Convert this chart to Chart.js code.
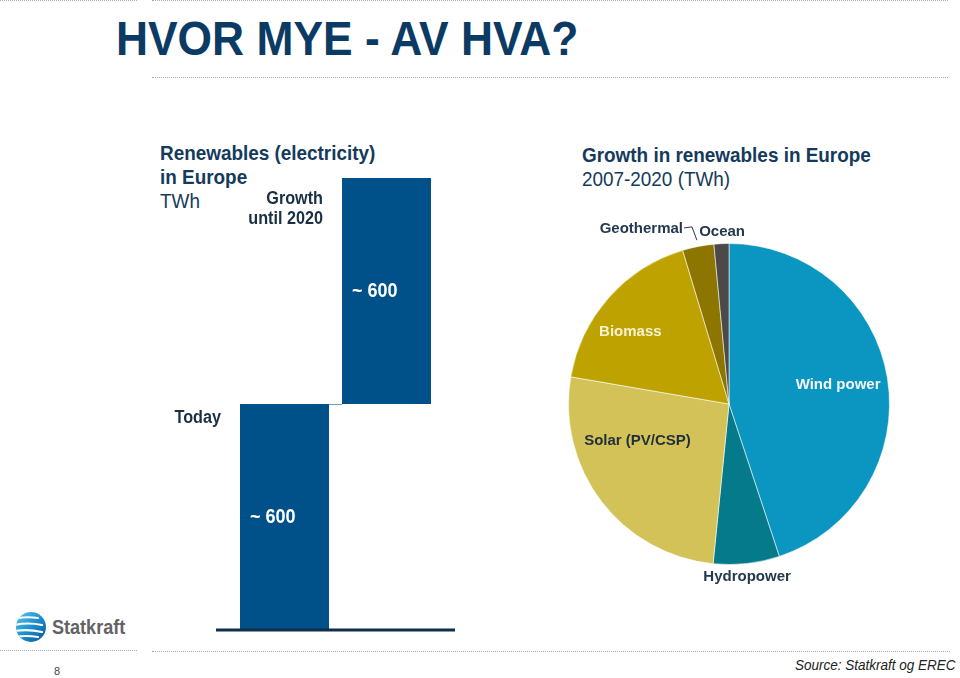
<!DOCTYPE html>
<html>
<head>
<meta charset="utf-8">
<script src="https://cdn.jsdelivr.net/npm/chart.js@4"></script>
<style>
body{margin:0;width:960px;height:678px;position:relative;background:#fff;font-family:"Liberation Sans",Arial,sans-serif;overflow:hidden}
.dot{position:absolute;height:0;border-top:1px dotted #a9a9a9}
.txt{position:absolute;white-space:nowrap;transform:scaleX(.9);transform-origin:0 0}
#title{left:116px;top:11px;font-size:48px;line-height:56px;font-weight:bold;color:#0b3b64;transform:scaleX(.924)}
#leftHead{left:160px;top:141px;font-size:21px;line-height:24px;color:#143a5c}
#rightHead{left:582px;top:143px;font-size:21px;line-height:24px;color:#143a5c}
b{font-weight:bold}
#page{position:absolute;left:54px;top:665px;font-size:11px;color:#444}
#source{left:795px;top:656px;font-size:15px;line-height:18px;font-style:italic;color:#222}
#brand{left:52px;top:615px;font-size:21px;line-height:24px;font-weight:bold;color:#636363;transform:scaleX(.86)}
canvas{position:absolute}
</style>
</head>
<body>
<div class="dot" style="left:0;top:0;width:137px"></div>
<div class="dot" style="left:152px;top:0;width:796px"></div>
<div class="dot" style="left:152px;top:77px;width:796px"></div>
<div class="dot" style="left:0;top:650px;width:137px"></div>
<div class="dot" style="left:152px;top:651px;width:798px"></div>

<div class="txt" id="title">HVOR MYE - AV HVA?</div>
<div class="txt" id="leftHead"><b>Renewables (electricity)</b><br><b>in Europe</b><br>TWh</div>
<div class="txt" id="rightHead"><b>Growth in renewables in Europe</b><br>2007-2020 (TWh)</div>

<svg style="position:absolute;left:14px;top:610px" width="34" height="34" viewBox="0 0 34 34">
  <defs>
    <linearGradient id="g" x1="0" y1="0" x2="1" y2="1">
      <stop offset="0" stop-color="#5cc6ee"/>
      <stop offset="0.5" stop-color="#1c8fcf"/>
      <stop offset="1" stop-color="#0a5796"/>
    </linearGradient>
    <clipPath id="c"><circle cx="17" cy="17" r="15"/></clipPath>
  </defs>
  <circle cx="17" cy="17" r="15" fill="url(#g)"/>
  <g clip-path="url(#c)" stroke="#fff" fill="none" stroke-linecap="round">
    <path d="M0 9 Q12 6 24 8" stroke-width="2"/>
    <path d="M0 15 Q14 12 28 15" stroke-width="2.2"/>
    <path d="M0 21 Q14 19 28 22" stroke-width="2.2"/>
    <path d="M0 27 Q12 25 24 27" stroke-width="2"/>
  </g>
</svg>
<div class="txt" id="brand">Statkraft</div>
<div id="page">8</div>
<div class="txt" id="source">Source: Statkraft og EREC</div>

<canvas id="bars" width="316" height="470" style="left:150px;top:170px"></canvas>
<canvas id="pie" width="400" height="400" style="left:560px;top:200px"></canvas>

<script>
// waterfall: today + growth until 2020
const categories = [['Today'], ['Growth', 'until 2020']];
const barStart = [0, 600];
const barEnd = [600, 1200];
const barText = ['~ 600', '~ 600'];

// growth 2007-2020 by source (TWh)
const sources = ['Wind power', 'Hydropower', 'Solar (PV/CSP)', 'Biomass', 'Geothermal', 'Ocean'];
const growthTWh = [270, 40, 157, 106, 19, 9];

const FONT = '"Liberation Sans", Arial, sans-serif';

function squeezed(ctx, text, x, y, align) {
    ctx.save();
    ctx.translate(x, y);
    ctx.scale(0.9, 1);
    ctx.textAlign = align;
    ctx.fillText(text, 0, 0);
    ctx.restore();
}

const barDecor = {
    id: 'barDecor',
    afterDatasetsDraw(chart) {
        const ctx = chart.ctx;
        const bars = chart.getDatasetMeta(0).data;
        const y0 = chart.scales.y.getPixelForValue(0);
        const labelDy = [14, 21];

        ctx.save();
        // connector from first bar top to second bar
        const b0 = bars[0], b1 = bars[1];
        ctx.strokeStyle = '#7f9ab3';
        ctx.lineWidth = 1;
        ctx.beginPath();
        ctx.moveTo(b0.x + b0.width / 2, b0.y + 0.5);
        ctx.lineTo(b1.x - b1.width / 2, b0.y + 0.5);
        ctx.stroke();

        // base line
        ctx.strokeStyle = '#0f2f4d';
        ctx.lineWidth = 3;
        ctx.beginPath();
        ctx.moveTo(b0.x - b0.width / 2 - 24, y0);
        ctx.lineTo(b1.x + b1.width / 2 + 24, y0);
        ctx.stroke();

        ctx.textBaseline = 'middle';
        bars.forEach((b, i) => {
            const top = Math.min(b.y, b.base);
            const bottom = Math.max(b.y, b.base);
            // value inside bar
            ctx.fillStyle = '#ffffff';
            ctx.font = 'bold 20px ' + FONT;
            squeezed(ctx, barText[i], b.x - b.width / 2 + 10, (top + bottom) / 2, 'left');
            // category name beside bar
            ctx.fillStyle = '#1b2f44';
            ctx.font = 'bold 18px ' + FONT;
            categories[i].forEach((line, k) => {
                squeezed(ctx, line, b.x - b.width / 2 - 19, top + labelDy[i] + k * 20, 'right');
            });
        });
        ctx.restore();
    }
};

new Chart(document.getElementById('bars'), {
    type: 'bar',
    data: {
        labels: categories,
        datasets: [{
            data: categories.map((c, i) => [barStart[i], barEnd[i]]),
            backgroundColor: '#00508a',
            borderWidth: 0,
            barPercentage: 1,
            categoryPercentage: 0.8725
        }]
    },
    options: {
        responsive: false,
        animation: false,
        layout: { padding: { left: 83.5, right: 28.5, top: 8, bottom: 10 } },
        scales: {
            x: { display: false },
            y: { display: false, min: 0, max: 1200 }
        },
        plugins: { legend: { display: false }, tooltip: { enabled: false } }
    },
    plugins: [barDecor]
});

const pieLabels = {
    id: 'pieLabels',
    afterDatasetsDraw(chart) {
        const ctx = chart.ctx;
        const arcs = chart.getDatasetMeta(0).data;
        // angle from top clockwise (deg), distance as share of radius, colour
        const spots = [
            [80, 0.69, '#f4f8fb'],
            [174, 1.08, '#25384d'],
            [248, 0.615, '#1f2f3c'],
            [306, 0.76, '#f8f2d2'],
            [333.4, 1.22, '#25384d'],
            [357.7, 1.075, '#25384d']
        ];
        ctx.save();
        ctx.font = 'bold 15px ' + FONT;
        ctx.textAlign = 'center';
        ctx.textBaseline = 'middle';
        arcs.forEach((a, i) => {
            const s = spots[i];
            const t = s[0] * Math.PI / 180;
            const x = a.x + Math.sin(t) * a.outerRadius * s[1];
            const y = a.y - Math.cos(t) * a.outerRadius * s[1];
            ctx.fillStyle = s[2];
            ctx.fillText(sources[i], x, y);
            if (i === 4) {
                // leader line to the geothermal slice
                const w = ctx.measureText(sources[i]).width;
                const mid = (a.startAngle + a.endAngle) / 2;
                ctx.strokeStyle = '#25384d';
                ctx.lineWidth = 1;
                ctx.beginPath();
                ctx.moveTo(x + w / 2 + 1, y - 1);
                ctx.lineTo(x + w / 2 + 9, y - 2);
                ctx.lineTo(a.x + Math.cos(mid) * a.outerRadius * 1.04, a.y + Math.sin(mid) * a.outerRadius * 1.04);
                ctx.stroke();
            }
        });
        ctx.restore();
    }
};

new Chart(document.getElementById('pie'), {
    type: 'pie',
    data: {
        labels: sources,
        datasets: [{
            data: growthTWh,
            backgroundColor: ['#0b96c2', '#047a8a', '#d3c257', '#bea300', '#8d7600', '#4c4a48'],
            borderColor: 'rgba(255,255,255,0.55)',
            borderWidth: 1
        }]
    },
    options: {
        responsive: false,
        animation: false,
        layout: { padding: { left: 8, right: 70, top: 43, bottom: 35 } },
        plugins: { legend: { display: false }, tooltip: { enabled: false } }
    },
    plugins: [pieLabels]
});
</script>
</body>
</html>
